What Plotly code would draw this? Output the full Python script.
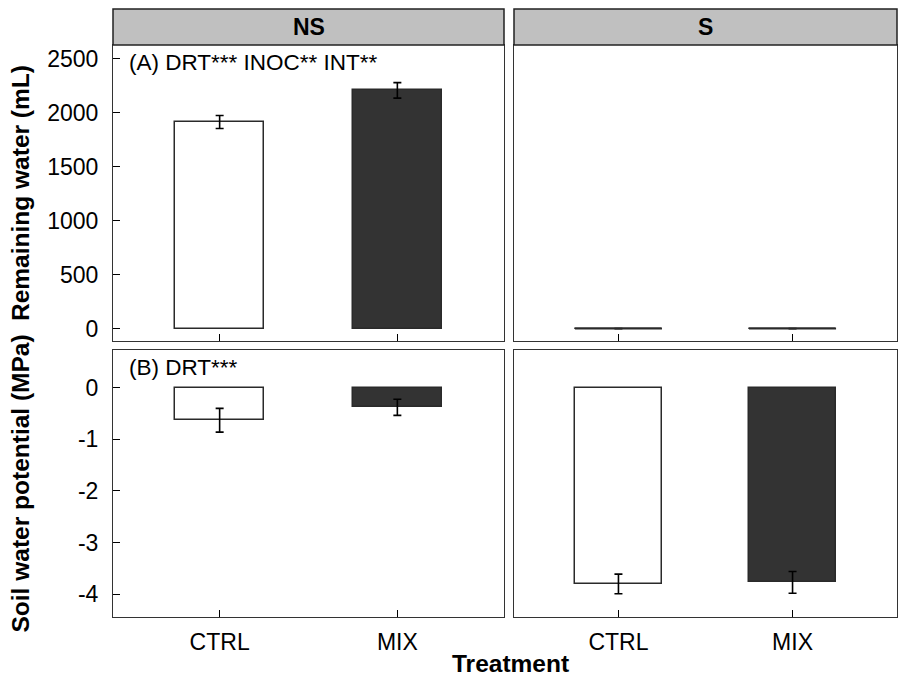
import plotly.graph_objects as go

# ---- data ----
treatments = ["CTRL", "MIX"]
panels = ["NS", "S"]

remaining_ns = [1912, 2205]
remaining_ns_err = [60, 72]
remaining_s = [0, 0]
remaining_s_err = [0, 0]

potential_ns = [-0.63, -0.38]
potential_ns_err = [0.23, 0.155]
potential_s = [-3.80, -3.77]
potential_s_err = [0.19, 0.21]

water_ticks = [0, 500, 1000, 1500, 2000, 2500]
potential_ticks = [0, -1, -2, -3, -4]
potential_ticktext = ["0", "-1", "-2", "-3", "-4"]

bar_fill = ["white", "#333333"]
stats_a = "(A) DRT*** INOC** INT**"
stats_b = "(B) DRT***"

# ---- layout geometry (pixels) ----
W, H = 898, 679
FONT = "Liberation Sans, Arial, sans-serif"
FS = 23
TITLE_FS = 24.5
BAR_W = 0.5


def px_x(p):
    return p / W


def px_y(p):
    return 1 - p / H


col_dom = [(px_x(113), px_x(504)), (px_x(514), px_x(897))]
row_dom = [(px_y(341), px_y(45)), (px_y(617), px_y(350))]

fig = go.Figure()

idx = list(range(len(treatments)))


def add_bars(values, errors, xa, ya):
    fig.add_trace(go.Bar(
        x=idx, y=values, width=BAR_W,
        marker=dict(color=bar_fill, line=dict(color="#2a2a2a", width=1.5)),
        error_y=dict(type="data", array=errors, visible=True,
                     color="black", thickness=1.6, width=4),
        xaxis=xa, yaxis=ya, showlegend=False,
    ))
    # zero-height bars: draw their outline as a flat segment
    for i, v in zip(idx, values):
        if v == 0:
            fig.add_trace(go.Scatter(
                x=[i - BAR_W / 2, i + BAR_W / 2], y=[v, v], mode="lines",
                line=dict(color="#2a2a2a", width=2),
                xaxis=xa, yaxis=ya, showlegend=False, hoverinfo="skip",
            ))


add_bars(remaining_ns, remaining_ns_err, "x", "y")
add_bars(remaining_s, remaining_s_err, "x2", "y2")
add_bars(potential_ns, potential_ns_err, "x3", "y3")
add_bars(potential_s, potential_s_err, "x4", "y4")

axis_common = dict(
    showline=True, linecolor="#333333", linewidth=1, mirror=True,
    ticks="inside", ticklen=7, tickwidth=1.2, tickcolor="black",
    showgrid=False, zeroline=False,
    tickfont=dict(family=FONT, size=FS, color="black"),
)

xrange = [-0.6, 1.6]
top_range = [-115, 2625]
bot_range = [-4.44, 0.73]

layout = dict(
    width=W, height=H, margin=dict(l=0, r=0, t=0, b=0),
    paper_bgcolor="white", plot_bgcolor="white",
    font=dict(family=FONT, size=FS, color="black"),
    bargap=0,
)

# x axes
for n, (ci, ri) in zip(["xaxis", "xaxis2", "xaxis3", "xaxis4"],
                       [(0, 0), (1, 0), (0, 1), (1, 1)]):
    yname = "y" + ("" if n == "xaxis" else n[-1])
    layout[n] = dict(axis_common, domain=col_dom[ci], range=xrange,
                     anchor=yname, tickvals=idx, ticktext=treatments,
                     showticklabels=(ri == 1), ticklabelstandoff=4)

# y axes
layout["yaxis"] = dict(axis_common, domain=row_dom[0], range=top_range,
                       anchor="x", tickvals=water_ticks,
                       ticklabelstandoff=9)
layout["yaxis2"] = dict(axis_common, domain=row_dom[0], range=top_range,
                        anchor="x2", ticks="", showticklabels=False)
layout["yaxis3"] = dict(axis_common, domain=row_dom[1], range=bot_range,
                        anchor="x3", tickvals=potential_ticks,
                        ticktext=potential_ticktext, ticklabelstandoff=9)
layout["yaxis4"] = dict(axis_common, domain=row_dom[1], range=bot_range,
                        anchor="x4", ticks="", showticklabels=False)

fig.update_layout(**layout)

# facet strips
for (x0, x1), label in zip(col_dom, panels):
    fig.add_shape(type="rect", xref="paper", yref="paper",
                  x0=x0, x1=x1, y0=px_y(45), y1=px_y(9),
                  fillcolor="#c0c0c0", line=dict(color="#222222", width=1.5),
                  layer="above")
    fig.add_annotation(text="<b>%s</b>" % label, xref="paper", yref="paper",
                       x=(x0 + x1) / 2, y=(px_y(45) + px_y(9)) / 2,
                       xanchor="center", yanchor="middle",
                       showarrow=False, font=dict(size=FS, family=FONT))

# statistics labels
fig.add_annotation(text=stats_a, xref="x domain", yref="y domain",
                   x=0.035, y=0.99, xanchor="left", yanchor="top",
                   showarrow=False, font=dict(size=FS - 0.5, family=FONT))
fig.add_annotation(text=stats_b, xref="x3 domain", yref="y3 domain",
                   x=0.035, y=0.99, xanchor="left", yanchor="top",
                   showarrow=False, font=dict(size=FS - 0.5, family=FONT))

# axis titles
fig.add_annotation(text="<b>Remaining water (mL)</b>", xref="paper", yref="paper",
                   x=px_x(20), y=sum(row_dom[0]) / 2, textangle=-90,
                   xanchor="center", yanchor="middle",
                   showarrow=False, font=dict(size=TITLE_FS, family=FONT))
fig.add_annotation(text="<b>Soil water potential (MPa)</b>", xref="paper", yref="paper",
                   x=px_x(20), y=sum(row_dom[1]) / 2, textangle=-90,
                   xanchor="center", yanchor="middle",
                   showarrow=False, font=dict(size=TITLE_FS, family=FONT))
fig.add_annotation(text="<b>Treatment</b>", xref="paper", yref="paper",
                   x=px_x(510), y=px_y(663), xanchor="center", yanchor="middle",
                   showarrow=False, font=dict(size=TITLE_FS, family=FONT))

fig.write_html("out.html")
